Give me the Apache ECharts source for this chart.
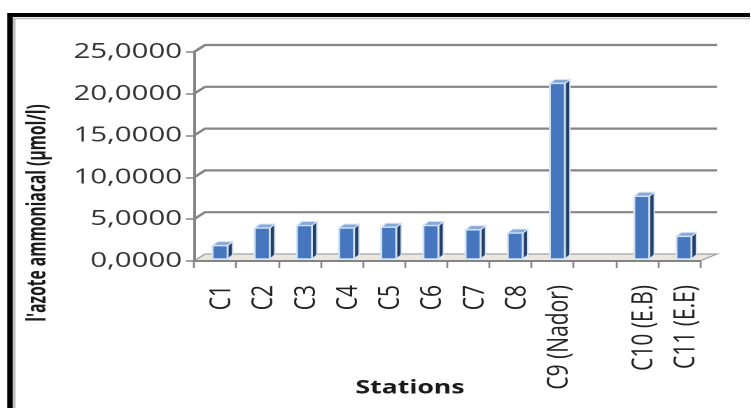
<!DOCTYPE html>
<html>
<head>
<meta charset="utf-8">
<title>Azote ammoniacal par station</title>
<script src="https://cdn.jsdelivr.net/npm/echarts/dist/echarts.min.js"></script>
<style>
  html, body { margin: 0; padding: 0; background: #fff; overflow: hidden; }
  #wrap { width: 751px; height: 408px; overflow: hidden; position: relative; background: #fff; }
  /* the chart is laid out narrow and widened horizontally */
  #chart { width: 536.43px; height: 408px; transform: scaleX(1.4); transform-origin: 0 0; }
</style>
</head>
<body>
<div id="wrap"><div id="chart"></div></div>
<script>
// Stations (an empty slot separates C9 from C10)
const stations = ['C1', 'C2', 'C3', 'C4', 'C5', 'C6', 'C7', 'C8', 'C9 (Nador)', '', 'C10 (E.B)', 'C11 (E.E)'];
// Ammonium nitrogen, µmol/l
const ammonium = [1.6, 3.7, 4.0, 3.7, 3.8, 4.0, 3.5, 3.1, 21.0, null, 7.5, 2.7];
// Value axis ticks
const yTicks = [0, 5, 10, 15, 20, 25];
const yTickLabels = ['0,0000', '5,0000', '10,0000', '15,0000', '20,0000', '25,0000'];

const SX = 1.4;                 // horizontal widening of the page
const X = v => v / SX;          // screen px -> layout px (horizontal)

// depth of the pseudo-3D box
const DXL = X(11), DXR = X(17), DY = -7;
// column geometry
const FACE = X(15), SHIFT = X(5), SIDE = X(5), SIDEY = -4, LIFT = -2;

const GRID_LEFT = X(194), GRID_W = X(506), GRID_TOP = 52, GRID_H = 209;
const FONT = '"Open Sans", "DejaVu Sans", sans-serif';

const chart = echarts.init(document.getElementById('chart'), null, { renderer: 'canvas', devicePixelRatio: 2 });

function renderWall(params, api) {
  const v = api.value(1);
  const c = api.coord([0, v]);
  const w = api.size([1, 0])[0];
  const x0 = c[0] - w / 2;
  const x1 = x0 + w * stations.length;
  const y = c[1];
  if (v === 0) {
    return {
      type: 'polygon',
      shape: { points: [[x0, y], [x1, y], [x1 + DXR, y + DY], [x0 + DXL, y + DY]] },
      style: { fill: '#ebe6de', stroke: '#a3a3a3', lineWidth: 1.2 }
    };
  }
  return {
    type: 'polyline',
    shape: { points: [[x0, y], [x0 + DXL, y + DY], [x1 + DXR, y + DY]] },
    style: { fill: null, stroke: '#848484', lineWidth: 2.2 }
  };
}

function renderColumn(params, api) {
  const v = api.value(1);
  if (v == null || isNaN(v)) return null;
  const i = api.value(0);
  const base = api.coord([i, 0]);
  const top = api.coord([i, v]);
  const xl = base[0] + SHIFT - FACE / 2;
  const xr = xl + FACE;
  const yb = base[1] + LIFT;
  const yt = top[1] + LIFT;
  const edge = '#d3e3f6';
  return {
    type: 'group',
    children: [
      {
        type: 'polygon',
        shape: { points: [[xr, yt], [xr + SIDE, yt + SIDEY], [xr + SIDE, yb + SIDEY], [xr, yb]] },
        style: { fill: '#243f66', stroke: edge, lineWidth: 1 }
      },
      {
        type: 'polygon',
        shape: { points: [[xl, yt], [xr, yt], [xr + SIDE, yt + SIDEY], [xl + SIDE, yt + SIDEY]] },
        style: { fill: '#86a9da', stroke: edge, lineWidth: 1 }
      },
      {
        type: 'rect',
        shape: { x: xl, y: yt, width: FACE, height: yb - yt },
        style: { fill: '#4676bd', stroke: edge, lineWidth: 1.4 }
      }
    ]
  };
}

const option = {
  backgroundColor: '#ffffff',
  animation: false,
  textStyle: { fontFamily: FONT },
  grid: [
    { left: GRID_LEFT, top: GRID_TOP, width: GRID_W, height: GRID_H },
    { left: GRID_LEFT + X(7), top: GRID_TOP, width: GRID_W, height: GRID_H }
  ],
  xAxis: [
    {
      type: 'category', gridIndex: 0, data: stations, boundaryGap: true, z: 3,
      axisLine: { show: true, lineStyle: { color: '#848484', width: 2 } },
      axisTick: { show: true, interval: 0, length: 7, lineStyle: { color: '#848484', width: 1.3 } },
      axisLabel: { show: false },
      splitLine: { show: false }
    },
    {
      type: 'category', gridIndex: 1, data: stations, boundaryGap: true,
      axisLine: { show: false }, axisTick: { show: false }, splitLine: { show: false },
      axisLabel: {
        interval: 0, rotate: 90, margin: 24,
        fontFamily: FONT, fontSize: 21, color: '#222222'
      }
    }
  ],
  yAxis: [
    {
      type: 'value', gridIndex: 0, min: 0, max: 25, interval: 5, z: 3,
      axisLine: { show: true, lineStyle: { color: '#848484', width: 2 } },
      axisTick: { show: true, length: X(8), lineStyle: { color: '#848484', width: 1.5 } },
      splitLine: { show: false },
      axisLabel: {
        margin: X(12), fontSize: 21, color: '#333333', fontFamily: FONT,
        formatter: v => yTickLabels[yTicks.indexOf(v)]
      }
    },
    { type: 'value', gridIndex: 1, min: 0, max: 25, show: false }
  ],
  graphic: [
    {
      type: 'rect', z: -1, silent: true,
      shape: { x: X(10), y: 15, width: 600, height: 500 },
      style: { fill: null, stroke: '#000', lineWidth: 4 }
    },
    {
      type: 'rect', z: -1, silent: true,
      shape: { x: X(14.5), y: 18.5, width: 600, height: 500 },
      style: { fill: null, stroke: '#b8b8b8', lineWidth: 1.5 }
    },
    {
      // axis title, condensed along its reading direction
      type: 'text', x: X(38), y: 213, rotation: Math.PI / 2, scaleX: 0.82, silent: true,
      style: {
        text: "l'azote ammoniacal (µmol/l)",
        font: 'bold 19px ' + FONT,
        fill: '#1a1a1a', align: 'center', verticalAlign: 'middle',
        textAlign: 'center', textVerticalAlign: 'middle'
      }
    },
    {
      type: 'text', x: X(410), y: 388, silent: true,
      style: {
        text: 'Stations',
        font: 'bold 19px ' + FONT,
        fill: '#1a1a1a', align: 'center', verticalAlign: 'middle',
        textAlign: 'center', textVerticalAlign: 'middle'
      }
    }
  ],
  series: [
    {
      type: 'custom', name: 'walls', xAxisIndex: 0, yAxisIndex: 0, z: 1, silent: true,
      renderItem: renderWall,
      encode: { x: 0, y: 1 },
      data: yTicks.map(v => [0, v])
    },
    {
      type: 'custom', name: 'azote ammoniacal', xAxisIndex: 0, yAxisIndex: 0, z: 4,
      renderItem: renderColumn,
      encode: { x: 0, y: 1 },
      data: ammonium.map((v, i) => [i, v])
    }
  ]
};

chart.setOption(option);
</script>
</body>
</html>
